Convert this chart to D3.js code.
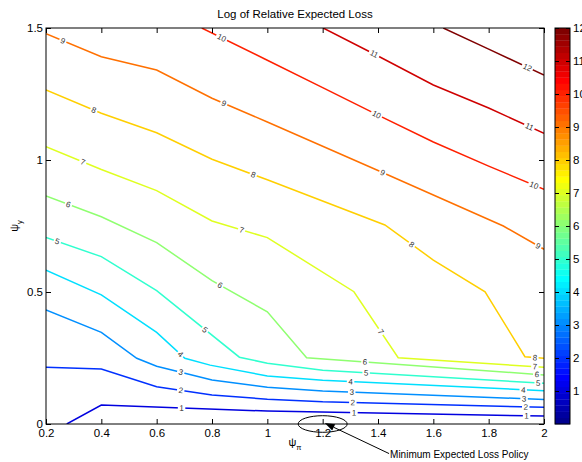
<!DOCTYPE html>
<html>
<head>
<meta charset="utf-8">
<script src="https://cdn.jsdelivr.net/npm/d3@7/dist/d3.min.js"></script>
<style>
body { margin: 0; background: #fff; }
svg { display: block; font-family: "Liberation Sans", Arial, sans-serif; }
</style>
</head>
<body>
<svg id="chart"></svg>
<script>
// tick labels
const xTicks = [0.2, 0.4, 0.6, 0.8, 1, 1.2, 1.4, 1.6, 1.8, 2];
const yTicks = [0, 0.5, 1, 1.5];
const barTicks = [1, 2, 3, 4, 5, 6, 7, 8, 9, 10, 11, 12];

// contour lines, [psi_pi, psi_y]
const level1 = [[0.275, 0], [0.4, 0.072], [1.0, 0.049], [2.0, 0.030]];
const level2 = [[0.2, 0.215], [0.4, 0.208], [0.6, 0.141], [0.8, 0.110], [1.0, 0.094], [1.2, 0.084], [2.0, 0.063]];
const level3 = [[0.2, 0.432], [0.4, 0.347], [0.528, 0.249], [0.6, 0.219], [0.8, 0.167], [1.0, 0.139], [1.2, 0.125], [2.0, 0.093]];
const level4 = [[0.2, 0.583], [0.4, 0.489], [0.6, 0.347], [0.702, 0.249], [0.793, 0.223], [1.0, 0.182], [1.2, 0.166], [2.0, 0.126]];
const level5 = [[0.2, 0.707], [0.4, 0.634], [0.6, 0.505], [0.899, 0.253], [1.0, 0.230], [1.2, 0.204], [2.0, 0.154]];
const level6 = [[0.2, 0.864], [0.4, 0.785], [0.6, 0.687], [0.8, 0.543], [1.0, 0.425], [1.142, 0.251], [2.0, 0.186]];
const level7 = [[0.2, 1.050], [0.4, 0.964], [0.6, 0.884], [0.8, 0.769], [1.0, 0.706], [1.313, 0.501], [1.473, 0.251], [2.0, 0.215]];
const level8 = [[0.2, 1.265], [0.4, 1.177], [0.6, 1.103], [0.8, 1.003], [1.0, 0.925], [1.425, 0.754], [1.6, 0.621], [1.787, 0.501], [1.931, 0.255], [2.0, 0.249]];
const level9 = [[0.2, 1.478], [0.4, 1.391], [0.6, 1.341], [0.8, 1.234], [1.0, 1.144], [1.4, 0.960], [1.853, 0.750], [2.0, 0.662]];
const level10 = [[0.763, 1.5], [1.0, 1.378], [1.2, 1.274], [1.4, 1.170], [1.6, 1.068], [1.8, 0.977], [2.0, 0.889]];
const level11 = [[1.202, 1.5], [1.4, 1.394], [1.6, 1.284], [1.8, 1.197], [2.0, 1.101]];
const level12 = [[1.636, 1.5], [1.8, 1.42], [2.0, 1.322]];

// inline labels, [level, psi_pi]
const labelPos = [
    [1, 0.690], [1, 1.313], [1, 1.937],
    [2, 0.687], [2, 1.309], [2, 1.934],
    [3, 0.687], [3, 1.305], [3, 1.928],
    [4, 0.686], [4, 1.301], [4, 1.925],
    [5, 0.241], [5, 0.775], [5, 1.357], [5, 1.979],
    [6, 0.281], [6, 0.829], [6, 1.353], [6, 1.974],
    [7, 0.333], [7, 0.907], [7, 1.410], [7, 1.967],
    [8, 0.373], [8, 0.949], [8, 1.522], [8, 1.967],
    [9, 0.261], [9, 0.843], [9, 1.417], [9, 1.979],
    [10, 0.835], [10, 1.395], [10, 1.964],
    [11, 1.386], [11, 1.947],
    [12, 1.940]
];

const policy = [1.2, 0];        // minimum expected loss point
const noteAt = [1.44, -0.112];   // where the annotation text starts

const contours = [level1, level2, level3, level4, level5, level6,
    level7, level8, level9, level10, level11, level12];

const W = 582, H = 462;
const svg = d3.select("#chart").attr("width", W).attr("height", H);

const x = d3.scaleLinear().domain([0.2, 2]).range([46, 544]);
const y = d3.scaleLinear().domain([0, 1.5]).range([424, 28]);
const c = d3.scaleLinear().domain([0, 12]).range([424, 28]);

// matlab jet, 64 entries
const jet = (t) => {
    const f = (v) => Math.round(255 * Math.max(0, Math.min(1, 1.5 - Math.abs(4 * t - v))));
    return `rgb(${f(3)},${f(2)},${f(1)})`;
};
const levelColor = (lv) => jet(Math.min(64, Math.floor(lv / 12 * 64) + 1) / 64);

svg.append("text")
    .attr("x", 295)
    .attr("y", 18)
    .attr("text-anchor", "middle")
    .style("font-size", "11.5px")
    .text("Log of Relative Expected Loss");

svg.append("clipPath").attr("id", "plotclip")
    .append("rect")
    .attr("x", 46).attr("y", 28).attr("width", 498).attr("height", 396);

const line = d3.line()
    .x((d) => x(d[0]))
    .y((d) => y(d[1]));

const lines = svg.append("g").attr("clip-path", "url(#plotclip)");
contours.forEach((pts, i) => {
    lines.append("path")
        .datum(pts)
        .attr("fill", "none")
        .attr("stroke", levelColor(i + 1))
        .attr("stroke-width", 1.5)
        .attr("d", line);
});

// place a label on its line
const pointAt = (pts, lx) => {
    for (let i = 0; i < pts.length - 1; ++i) {
        const a = pts[i], b = pts[i + 1];
        if (lx >= a[0] && lx <= b[0]) {
            const t = (lx - a[0]) / (b[0] - a[0]);
            const px = x(a[0]) + t * (x(b[0]) - x(a[0]));
            const py = y(a[1]) + t * (y(b[1]) - y(a[1]));
            let ang = Math.atan2(y(b[1]) - y(a[1]), x(b[0]) - x(a[0])) * 180 / Math.PI;
            if (ang > 90) ang -= 180;
            if (ang < -90) ang += 180;
            return [px, py, ang];
        }
    }
    return [x(lx), y(pts[pts.length - 1][1]), 0];
};

const labels = svg.append("g");
labelPos.forEach(([lv, lx]) => {
    const [px, py, ang] = pointAt(contours[lv - 1], lx);
    const g = labels.append("g")
        .attr("transform", `translate(${px},${py}) rotate(${ang})`);
    const bg = g.append("rect").attr("fill", "#fff");
    const t = g.append("text")
        .attr("text-anchor", "middle")
        .attr("dy", "0.35em")
        .attr("fill", "#333")
        .style("font-size", "8px")
        .text(lv);
    const w = t.node().getComputedTextLength() + 3;
    bg.attr("x", -w / 2).attr("y", -3).attr("width", w).attr("height", 6);
});

// axes, ticks inside like matlab
const fontSize = "11.5px";
const axBottom = svg.append("g")
    .attr("transform", "translate(0,424)")
    .call(d3.axisBottom(x).tickValues(xTicks).tickSizeInner(-5).tickSizeOuter(0)
        .tickPadding(5).tickFormat((d) => String(d)));
const axTop = svg.append("g")
    .attr("transform", "translate(0,28)")
    .call(d3.axisTop(x).tickValues(xTicks).tickSizeInner(-5).tickSizeOuter(0).tickFormat(""));
const axLeft = svg.append("g")
    .attr("transform", "translate(46,0)")
    .call(d3.axisLeft(y).tickValues(yTicks).tickSizeInner(-5).tickSizeOuter(0)
        .tickPadding(3).tickFormat((d) => String(d)));
const axRight = svg.append("g")
    .attr("transform", "translate(544,0)")
    .call(d3.axisRight(y).tickValues(yTicks).tickSizeInner(-5).tickSizeOuter(0).tickFormat(""));
[axBottom, axTop, axLeft, axRight].forEach((a) => {
    a.select(".domain").remove();
    a.selectAll("text").attr("fill", "#000")
        .style("font-size", fontSize)
        .style("font-family", "'Liberation Sans', Arial, sans-serif");
    a.selectAll("line").attr("stroke", "#000");
});

svg.append("rect")
    .attr("x", 46).attr("y", 28).attr("width", 498).attr("height", 396)
    .attr("fill", "none").attr("stroke", "#000").attr("stroke-width", 1);

// axis titles
svg.append("text")
    .attr("x", 295)
    .attr("y", 446)
    .attr("text-anchor", "middle")
    .style("font-size", "11px")
    .text("ψ")
    .append("tspan")
    .attr("dy", 4)
    .style("font-size", "7.5px")
    .text("π");

svg.append("text")
    .attr("transform", "translate(18,226) rotate(-90)")
    .attr("text-anchor", "middle")
    .style("font-size", "11px")
    .text("ψ")
    .append("tspan")
    .attr("dy", 4)
    .style("font-size", "7.5px")
    .text("y");

// colorbar
const barX = 555, barW = 15;
const bands = d3.range(1, 65);
svg.append("g")
    .selectAll("rect")
    .data(bands)
    .enter()
    .append("rect")
        .attr("x", barX)
        .attr("width", barW)
        .attr("y", (k) => c(k * 12 / 64))
        .attr("height", (k) => c((k - 1) * 12 / 64) - c(k * 12 / 64) + 0.3)
        .attr("fill", (k) => jet(k / 64));

const barRight = svg.append("g")
    .attr("transform", `translate(${barX + barW},0)`)
    .call(d3.axisRight(c).tickValues(barTicks).tickSizeInner(-4).tickSizeOuter(0).tickPadding(3));
const barLeft = svg.append("g")
    .attr("transform", `translate(${barX},0)`)
    .call(d3.axisLeft(c).tickValues(barTicks).tickSizeInner(-4).tickSizeOuter(0).tickFormat(""));
[barRight, barLeft].forEach((a) => {
    a.select(".domain").remove();
    a.selectAll("text").attr("fill", "#000")
        .style("font-size", fontSize)
        .style("font-family", "'Liberation Sans', Arial, sans-serif");
    a.selectAll("line").attr("stroke", "#000");
});
svg.append("rect")
    .attr("x", barX).attr("y", 28).attr("width", barW).attr("height", 396)
    .attr("fill", "none").attr("stroke", "#000").attr("stroke-width", 1);

// annotation
const ex = x(policy[0]), ey = y(policy[1]);
svg.append("ellipse")
    .attr("cx", ex).attr("cy", ey)
    .attr("rx", 24.5).attr("ry", 8.3)
    .attr("fill", "none").attr("stroke", "#000").attr("stroke-width", 1);

const sx = x(noteAt[0]), sy = y(noteAt[1]);
const tipX = ex + 2, tipY = ey - 1;
const dx = tipX - sx, dy = tipY - sy, len = Math.hypot(dx, dy);
const ux = dx / len, uy = dy / len;
const headL = 10, headW = 3.5;
const bx = tipX - ux * headL, by = tipY - uy * headL;
svg.append("line")
    .attr("x1", sx).attr("y1", sy)
    .attr("x2", bx).attr("y2", by)
    .attr("stroke", "#000").attr("stroke-width", 1);
svg.append("polygon")
    .attr("points", [[tipX, tipY], [bx - uy * headW, by + ux * headW], [bx + uy * headW, by - ux * headW]]
        .map((p) => p.join(",")).join(" "))
    .attr("fill", "#000");

svg.append("text")
    .attr("x", sx + 1)
    .attr("y", sy + 4)
    .style("font-size", "10px")
    .text("Minimum Expected Loss Policy");
</script>
</body>
</html>
